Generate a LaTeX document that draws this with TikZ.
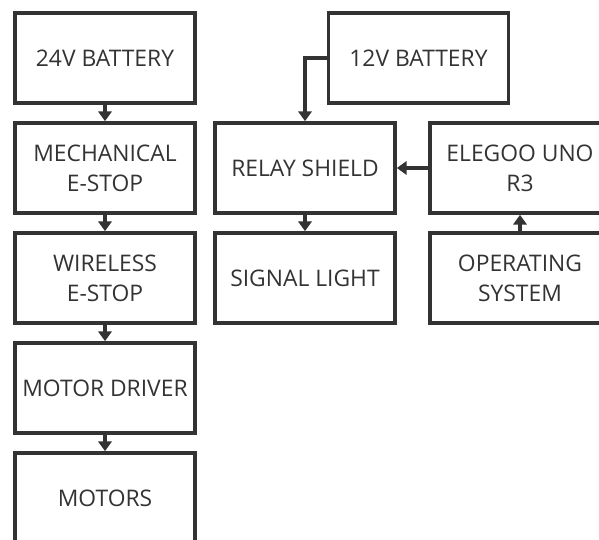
\documentclass[tikz,border=0pt]{standalone}
\usepackage{fontspec}
\setmainfont{Open Sans}
\definecolor{linegray}{RGB}{51, 51, 51}
\usetikzlibrary{arrows.meta, positioning}

\begin{document}
\begin{tikzpicture}[
  blk/.style={draw=linegray, line width=2.1pt, minimum width=3.6cm, minimum height=1.8cm, align=center, font=\fontsize{13}{17}\selectfont, text=linegray, inner sep=2pt},
  link/.style={draw=linegray, line width=1.8pt, -{Triangle[width=7.5pt,length=5.5pt]}}
]
  \clip (0, 0) rectangle (11.98, -10.8);
  \useasboundingbox (0, 0) rectangle (11.98, -10.8);

  % left column
  \node[blk] (bat24) at (2.1, -1.16) {24V BATTERY};
  \node[blk] (mech) at (2.1, -3.36) {MECHANICAL\\E-STOP};
  \node[blk] (wless) at (2.1, -5.56) {WIRELESS\\E-STOP};
  \node[blk] (driver) at (2.1, -7.76) {MOTOR DRIVER};
  \node[blk] (motors) at (2.1, -9.96) {MOTORS};

  % middle and right
  \node[blk] (bat12) at (8.37, -1.16) {12V BATTERY};
  \node[blk] (relay) at (6.1, -3.36) {RELAY SHIELD};
  \node[blk] (light) at (6.1, -5.56) {SIGNAL LIGHT};
  \node[blk] (uno) at (10.4, -3.36) {ELEGOO UNO\\R3};
  \node[blk] (os) at (10.4, -5.56) {OPERATING\\SYSTEM};

  \draw[link] (bat24) -- (mech);
  \draw[link] (mech) -- (wless);
  \draw[link] (wless) -- (driver);
  \draw[link] (driver) -- (motors);
  \draw[link] (bat12.west) -| (relay.north);
  \draw[link] (relay) -- (light);
  \draw[link] (uno) -- (relay);
  \draw[link] (os) -- (uno);
\end{tikzpicture}
\end{document}
